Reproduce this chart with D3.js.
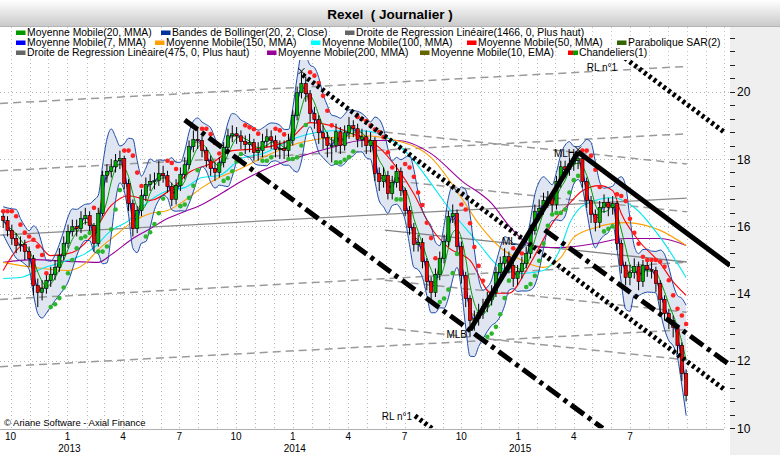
<!DOCTYPE html>
<html><head><meta charset="utf-8">
<script src="https://cdn.jsdelivr.net/npm/d3@7"></script>
<style>
body{margin:0;background:#fff}
svg{display:block}
text{font-family:"Liberation Sans",Arial,sans-serif;fill:#000}
</style>
</head><body>
<svg id="c" width="780" height="455"></svg>
<script>
// ---------- DATA (weekly candles) ----------
const startDate = "2012-09-19";
const firstOpen = 16.30;
const closes = [16.17,15.88,15.64,15.43,15.46,15.25,15.04,14.24,14.04,14.15,
14.39,14.57,14.78,15.13,15.49,15.85,15.99,15.93,16.23,16.32,
16.02,15.49,16.38,17.51,17.63,17.77,17.95,18.01,17.27,16.68,
15.93,16.47,16.91,17.24,17.33,17.36,17.57,17.51,17.18,16.80,
17.21,17.54,17.83,18.37,18.58,18.55,18.25,17.95,17.72,17.60,
17.89,18.34,18.69,18.75,18.69,18.52,18.43,18.49,18.19,18.25,
18.52,18.66,18.55,18.28,18.31,18.25,18.55,19.29,19.97,20.24,
19.94,19.35,19.17,18.78,18.64,18.40,18.40,18.81,18.40,18.78,
18.99,18.90,18.58,18.66,18.40,18.55,17.57,17.33,17.51,16.97,
17.30,17.63,17.06,16.47,15.96,15.46,15.52,14.96,14.36,14.04,
14.57,15.04,15.55,16.29,16.38,15.40,14.54,13.86,13.20,13.26,
13.44,13.62,13.83,14.04,14.63,14.90,15.10,14.84,14.45,14.66,
14.90,15.19,15.88,16.44,16.53,16.77,16.85,16.65,17.33,17.77,
17.69,17.86,17.95,18.01,17.33,16.77,16.35,16.11,16.56,16.71,
16.56,16.68,15.49,14.84,14.48,14.63,14.81,14.36,14.84,14.72,
14.69,14.30,13.83,13.41,13.20,13.00,12.46,11.63,10.98];
const highs = [16.45,16.30,16.05,15.80,15.70,15.60,15.40,15.15,14.45,14.40,
14.60,14.80,15.00,15.35,15.70,16.05,16.20,16.20,16.45,16.55,
16.45,16.10,16.55,17.65,17.85,18.00,18.15,18.25,18.10,17.40,
16.80,16.60,17.10,17.45,17.55,17.60,17.95,17.80,17.65,17.30,
17.40,17.75,18.05,18.55,18.85,18.90,18.70,18.35,18.10,17.90,
18.05,18.50,18.90,19.00,18.95,18.85,18.70,18.75,18.60,18.50,
18.75,18.90,18.85,18.70,18.55,18.55,18.75,19.45,20.15,20.58,
20.45,20.05,19.55,19.30,19.00,18.80,18.65,19.05,18.95,19.00,
19.25,19.15,19.05,18.90,18.85,18.80,18.65,17.75,17.75,17.65,
17.50,17.85,17.75,17.15,16.60,16.10,15.75,15.65,15.05,14.50,
14.75,15.25,15.75,16.45,16.65,16.50,15.55,14.65,13.95,13.50,
13.70,13.85,14.05,14.25,14.80,15.10,15.35,15.25,14.95,14.85,
15.10,15.40,16.05,16.65,16.80,17.00,17.05,17.00,17.50,17.95,
17.95,18.05,18.15,18.25,18.10,17.45,16.90,16.50,16.75,16.95,
16.85,16.90,16.75,15.60,14.95,14.85,15.05,14.95,15.00,15.00,
14.95,14.80,14.40,13.95,13.55,13.35,13.10,12.55,11.75];
const lows = [15.95,15.70,15.45,15.20,15.25,15.00,14.80,13.95,13.60,13.80,
14.00,14.20,14.40,14.65,15.00,15.35,15.70,15.70,15.80,16.05,
15.80,15.25,15.40,16.30,17.30,17.45,17.60,17.70,17.10,16.45,
15.70,15.80,16.30,16.75,17.05,17.10,17.20,17.30,17.00,16.60,
16.65,17.05,17.40,17.70,18.20,18.30,18.05,17.75,17.50,17.35,
17.45,17.75,18.20,18.50,18.45,18.30,18.15,18.20,17.95,17.95,
18.05,18.35,18.30,18.05,18.00,18.00,18.05,18.40,19.15,19.80,
19.70,19.10,18.90,18.45,18.30,18.05,17.90,18.20,18.15,18.25,
18.60,18.65,18.35,18.35,18.15,18.20,17.35,17.05,17.15,16.80,
16.80,17.15,16.90,16.30,15.75,15.25,15.25,14.75,14.10,13.75,
13.90,14.40,14.90,15.40,16.10,15.20,14.30,13.60,12.72,12.90,
13.05,13.25,13.45,13.65,13.90,14.45,14.70,14.60,14.20,14.25,
14.45,14.75,15.05,15.75,16.20,16.35,16.55,16.40,16.50,17.15,
17.45,17.50,17.65,17.70,17.15,16.55,16.10,15.85,15.95,16.40,
16.30,16.35,15.30,14.60,14.25,14.25,14.45,14.10,14.20,14.50,
14.45,14.05,13.40,13.20,12.95,12.70,12.20,11.40,10.80];

// long moving averages: [week index, value]
const ma200 = [[0,14.93],[7,15.01],[15,14.96],[22,14.93],[25,15.16],[30,15.64],[34,15.93],[38,16.23],[42,16.44],[46,16.65],[50,16.94],[55,17.33],[60,17.66],[68,18.04],[76,18.34],[83,18.55],[91,18.55],[99,18.16],[106,17.36],[113,16.68],[117,16.02],[121,15.52],[125,15.37],[129,15.37],[137,15.49],[144,15.64],[152,15.64],[158,15.43]];
const ma150 = [[0,14.93],[7,14.78],[15,14.69],[19,14.90],[22,15.31],[26,15.73],[30,16.14],[34,16.38],[38,16.47],[42,16.77],[46,17.15],[50,17.45],[55,17.72],[60,18.04],[68,18.46],[76,18.64],[83,18.69],[91,18.55],[99,18.04],[106,16.85],[110,16.08],[115,15.37],[120,14.99],[125,14.78],[129,15.07],[132,15.67],[137,15.96],[144,16.11],[152,15.88],[158,15.43]];
const ma100 = [[0,14.45],[4,14.48],[9,14.75],[15,14.99],[19,15.19],[21,15.37],[25,15.88],[29,16.17],[32,16.56],[38,17.06],[42,17.15],[46,17.45],[50,17.51],[55,18.01],[60,18.16],[68,18.64],[76,18.84],[83,18.84],[87,18.75],[91,18.46],[95,17.95],[99,17.27],[103,16.56],[108,15.79],[110,15.49],[115,14.78],[120,14.60],[125,14.69],[129,15.37],[131,16.08],[135,16.68],[141,16.85],[146,16.56],[152,15.67],[158,14.48]];
const ma50 = [[0,14.69],[3,15.28],[7,15.58],[11,15.13],[16,15.22],[20,15.64],[25,16.62],[29,16.91],[34,16.77],[39,17.12],[43,17.60],[48,17.86],[53,18.25],[59,18.31],[66,18.55],[71,19.08],[76,18.99],[80,18.78],[83,18.64],[87,18.34],[91,17.75],[95,16.97],[99,15.96],[103,15.37],[108,14.99],[113,14.01],[117,14.01],[121,14.69],[124,15.37],[127,16.08],[131,16.68],[134,17.06],[138,17.21],[141,17.06],[143,16.38],[147,15.58],[152,14.90],[155,14.35],[158,13.95]];

// regression channels: [date, value] endpoints of centre line, offsets
const reg1466 = {d0:"2012-09-14", v0:15.74, d1:"2015-10-01", v1:16.84, offsets:[3.91,1.91,0,-1.91,-3.91]};
const reg475  = {d0:"2014-05-30", v0:15.89, d1:"2015-10-01", v1:14.94, offsets:[2.91,1.49,0,-1.49,-2.91]};

// trend lines (date, value)
const rl1 = {d0:"2014-01-17", v0:20.50, d1:"2015-12-02", v1:11.14, channel:7.64, upperFrom:"2015-06-15", lowerFrom:"2014-07-18"};
const trendLines = [
  {d0:"2013-07-10", v0:19.16, d1:"2015-05-18", v1:10.00, style:"dashdot"},
  {d0:"2014-10-15", v0:12.92, d1:"2015-04-08", v1:18.21, style:"solid"},
  {d0:"2015-04-08", v0:18.21, d1:"2015-12-10", v1:14.84, style:"solid"},
  {d0:"2015-02-13", v0:15.89, d1:"2015-12-10", v1:11.88, style:"dashdot"}
];

const yTicksLabeled = [10,12,14,16,18,20];
const monthLabels = {0:"1",3:"4",6:"7",9:"10"};

// ---------- SETUP ----------
const svg = d3.select("#c");
const W = 780, H = 455;
const P = {left:0, right:730, top:27, bottom:428.3, legendBottom:60};
const parse = d3.utcParse("%Y-%m-%d");
const x = d3.scaleUtc().domain([parse("2012-10-01"), parse("2015-10-01")]).range([10.6, 10.6 + 1095*0.6175]);
const y = d3.scaleLinear().domain([10,20]).range([428.3, 91.7]);
const dates = closes.map((_,i)=>d3.utcDay.offset(parse(startDate), 7*i));
const opens = closes.map((c,i)=> i===0 ? firstOpen : closes[i-1]);

// indicators
function sma(a,n){return a.map((_,i)=>d3.mean(a.slice(Math.max(0,i-n+1),i+1)));}
function ema(a,n){const k=2/(n+1);let e=a[0];return a.map((v,i)=>i===0?e:(e=k*v+(1-k)*e));}
const ma20 = sma(closes,4), ma7 = sma(closes,2), ema10 = ema(closes,2);
const bb = closes.map((_,i)=>{
  const lo=Math.max(0,i-3);
  const s=closes.slice(lo,i+1).concat(highs.slice(lo,i+1),lows.slice(lo,i+1));
  const m=d3.mean(closes.slice(lo,i+1));
  const sd=Math.sqrt(d3.mean(s,v=>(v-m)**2));
  return {up:m+2*sd, lo:m-2*sd};
});
function psar(hs,ls,a0,step,amax){
  const n=hs.length,out=[];let up=false,af=a0,ep=ls[0],s=hs[0];
  out.push({v:s,up});
  for(let i=1;i<n;i++){
    s=s+af*(ep-s);
    if(up){s=Math.min(s,ls[i-1],ls[Math.max(0,i-2)]);
      if(ls[i]<s){up=false;s=ep;ep=ls[i];af=a0;}
      else if(hs[i]>ep){ep=hs[i];af=Math.min(af+step,amax);}
    }else{s=Math.max(s,hs[i-1],hs[Math.max(0,i-2)]);
      if(hs[i]>s){up=true;s=ep;ep=hs[i];af=a0;}
      else if(ls[i]<ep){ep=ls[i];af=Math.min(af+step,amax);}
    }
    out.push({v:s,up});
  }
  return out;
}
const sar = psar(highs,lows,0.07,0.07,0.35);

// ---------- BACKGROUND ----------
const defs = svg.append("defs");
const g1 = defs.append("linearGradient").attr("id","tb").attr("x1",0).attr("y1",0).attr("x2",0).attr("y2",1);
g1.append("stop").attr("offset","0%").attr("stop-color","#ffffff");
g1.append("stop").attr("offset","100%").attr("stop-color","#c8c8c8");
defs.append("clipPath").attr("id","clip").append("rect")
  .attr("x",P.left).attr("y",P.top).attr("width",P.right-P.left).attr("height",P.bottom-P.top);

svg.append("rect").attr("width",W).attr("height",H).attr("fill","#fff");
svg.append("rect").attr("x",P.right).attr("y",P.top).attr("width",W-P.right).attr("height",H-P.top).attr("fill","#efefef");
svg.append("rect").attr("width",W).attr("height",P.top).attr("fill","url(#tb)");
svg.append("line").attr("x1",0).attr("x2",W).attr("y1",P.top-0.5).attr("y2",P.top-0.5).attr("stroke","#b4b4b4");
svg.append("text").attr("x",390).attr("y",19).attr("text-anchor","middle")
  .style("font-size","13.5px").style("font-weight","bold").style("white-space","pre")
  .attr("xml:space","preserve").text("Rexel  ( Journalier )");

// grid
const grid = svg.append("g");
const months = d3.utcMonth.range(parse("2012-10-01"), parse("2015-12-31"));
grid.selectAll("line.v").data(months).join("line")
  .attr("x1",d=>Math.round(x(d))+0.5).attr("x2",d=>Math.round(x(d))+0.5)
  .attr("y1",P.top).attr("y2",P.bottom)
  .attr("stroke","#b8b8b8").attr("stroke-dasharray","1,3")
  .attr("display",d=>x(d)<P.right-2?null:"none");
grid.selectAll("line.h").data([12,14,16,18,20]).join("line")
  .attr("x1",0).attr("x2",P.right).attr("y1",d=>Math.round(y(d))+0.5).attr("y2",d=>Math.round(y(d))+0.5)
  .attr("stroke","#b8b8b8").attr("stroke-dasharray","1,3");
svg.append("line").attr("x1",0).attr("x2",P.right-6).attr("y1",429.5).attr("y2",429.5).attr("stroke","#b0b0b0");

const plot = svg.append("g").attr("clip-path","url(#clip)");
const xi = i=>x(dates[i]);

// Bollinger fill
plot.append("path").datum(bb)
  .attr("d",d3.area().x((d,i)=>xi(i)).y0(d=>y(d.lo)).y1(d=>y(d.up)).curve(d3.curveMonotoneX))
  .attr("fill","#dfe6f1");

// regression channels
function regLines(r, solidColor){
  const a=parse(r.d0), b=parse(r.d1);
  r.offsets.forEach(o=>{
    plot.append("line").attr("x1",x(a)).attr("y1",y(r.v0+o)).attr("x2",x(b)).attr("y2",y(r.v1+o))
      .attr("stroke", o===0?solidColor:"#9a9a9a").attr("stroke-width",o===0?1.3:1.5)
      .attr("stroke-dasharray",o===0?null:"8,5");
  });
}
regLines(reg1466,"#8a8a8a");
regLines(reg475,"#808080");

// long MAs
const lineIdx = d3.line().x(d=>xi(d[0])).y(d=>y(d[1])).curve(d3.curveMonotoneX);
[[ma200,"#990099"],[ma150,"#ffa000"],[ma100,"#00e8f0"],[ma50,"#ff0000"]].forEach(([data,c])=>{
  plot.append("path").datum(data).attr("d",lineIdx).attr("fill","none").attr("stroke",c).attr("stroke-width",1.1);
});

// Bollinger lines
const lineArr = acc=>d3.line().x((d,i)=>xi(i)).y(acc).curve(d3.curveMonotoneX);
plot.append("path").datum(bb).attr("d",lineArr(d=>y(d.up))).attr("fill","none").attr("stroke","#1d4aa8").attr("stroke-width",1);
plot.append("path").datum(bb).attr("d",lineArr(d=>y(d.lo))).attr("fill","none").attr("stroke","#1d4aa8").attr("stroke-width",1);

// short MAs
plot.append("path").datum(ma20).attr("d",lineArr(d=>y(d))).attr("fill","none").attr("stroke","#009900").attr("stroke-width",1);
plot.append("path").datum(ema10).attr("d",lineArr(d=>y(d))).attr("fill","none").attr("stroke","#666600").attr("stroke-width",1);
plot.append("path").datum(ma7).attr("d",lineArr(d=>y(d))).attr("fill","none").attr("stroke","#0000ff").attr("stroke-width",1);

// candles
const cg = plot.append("g");
closes.forEach((c,i)=>{
  const o=opens[i], cx=xi(i);
  cg.append("line").attr("x1",cx).attr("x2",cx).attr("y1",y(highs[i])).attr("y2",y(lows[i])).attr("stroke","#000").attr("stroke-width",1);
  const top=y(Math.max(o,c)), bot=y(Math.min(o,c));
  cg.append("rect").attr("x",cx-1.6).attr("y",top).attr("width",3.2).attr("height",Math.max(1,bot-top))
    .attr("fill",c>=o?"#00b000":"#ff0000").attr("stroke","#000").attr("stroke-width",0.6);
});

// SAR dots
plot.append("g").selectAll("circle").data(sar).join("circle")
  .attr("cx",(d,i)=>xi(i)).attr("cy",d=>y(d.v)).attr("r",2.3)
  .attr("fill",d=>d.up?"#2db52d":"#ff2020");

// trend lines
const dashFor = s=> s==="dashdot" ? "16,5,4,5" : (s==="dotted" ? "3,3" : null);
function tline(d0,v0,d1,v1,style){
  plot.append("line").attr("x1",x(parse(d0))).attr("y1",y(v0)).attr("x2",x(parse(d1))).attr("y2",y(v1))
    .attr("stroke","#000").attr("stroke-width",5).attr("stroke-dasharray",dashFor(style));
}
trendLines.forEach(t=>tline(t.d0,t.v0,t.d1,t.v1,t.style));
// RL n°1 and its channel copies
const rlAt = ds=>{const a=parse(rl1.d0),b=parse(rl1.d1),t=(parse(ds)-a)/(b-a);return rl1.v0+t*(rl1.v1-rl1.v0);};
tline(rl1.d0,rl1.v0,rl1.d1,rl1.v1,"dotted");
tline(rl1.upperFrom,rlAt(rl1.upperFrom)+rl1.channel,rl1.d1,rl1.v1+rl1.channel,"dotted");
tline(rl1.lowerFrom,rlAt(rl1.lowerFrom)-rl1.channel,rl1.d1,rl1.v1-rl1.channel,"dotted");

// labels on chart
const ann = svg.append("g").style("font-size","10px");
ann.append("text").attr("x",x(parse(rl1.upperFrom))-3).attr("y",y(rlAt(rl1.upperFrom)+rl1.channel)+17).attr("text-anchor","end").text("RL n°1");
ann.append("text").attr("x",x(parse(rl1.lowerFrom))-3).attr("y",y(rlAt(rl1.lowerFrom)-rl1.channel)+4).attr("text-anchor","end").text("RL n°1");
ann.append("text").attr("x",xi(133)-3).attr("y",y(highs[133])+6).attr("text-anchor","end").text("MLH");
ann.append("text").attr("x",xi(117)).attr("y",y(15.45)).attr("text-anchor","middle").text("ML");
ann.append("text").attr("x",xi(108)-3).attr("y",y(lows[108])+1).attr("text-anchor","end").text("MLB");
[69,133].forEach(i=>{
  const cx=xi(i), cy=y(highs[i])-1;
  ann.append("path").attr("d",`M${cx-3},${cy-3}L${cx+3},${cy+3}M${cx-3},${cy+3}L${cx+3},${cy-3}`).attr("stroke","#000").attr("stroke-width",1);
});
svg.append("text").attr("x",4).attr("y",426).style("font-size","9.5px").text("© Ariane Software - Axial Finance");

// ---------- LEGEND ----------
svg.append("rect").attr("x",0).attr("y",P.top).attr("width",P.right).attr("height",P.legendBottom-P.top).attr("fill","#fff");
svg.append("g").selectAll("line").data(months.filter(d=>x(d)<P.right-2)).join("line")
  .attr("x1",d=>Math.round(x(d))+0.5).attr("x2",d=>Math.round(x(d))+0.5)
  .attr("y1",P.top).attr("y2",P.legendBottom)
  .attr("stroke","#c4c4c4").attr("stroke-dasharray","1,3");
const legend = [
  [16,36,"#009900","Moyenne Mobile(20, MMA)"],
  [161,36,"#003399","Bandes de Bollinger(20, 2, Close)"],
  [345,36,"#666666","Droite de Regression Linéaire(1466, 0, Plus haut)"],
  [16,46,"#0000ff","Moyenne Mobile(7, MMA)"],
  [155,46,"#ffa000","Moyenne Mobile(150, MMA)"],
  [311,46,"#00ffff","Moyenne Mobile(100, MMA)"],
  [467,46,"#ff0000","Moyenne Mobile(50, MMA)"],
  [617,46,"#336600","Parabolique SAR(2)"],
  [16,56,"#666666","Droite de Regression Linéaire(475, 0, Plus haut)"],
  [267,56,"#990099","Moyenne Mobile(200, MMA)"],
  [420,56,"#666600","Moyenne Mobile(10, EMA)"],
  [568,56,"candle","Chandeliers(1)"]
];
const lg = svg.append("g").style("font-size","10.4px");
legend.forEach(([lx,ly,c,t])=>{
  if(c==="candle"){
    lg.append("rect").attr("x",lx).attr("y",ly-5.5).attr("width",5).attr("height",4.5).attr("fill","#ff0000");
    lg.append("rect").attr("x",lx+5).attr("y",ly-5.5).attr("width",5).attr("height",4.5).attr("fill","#00a000");
  } else {
    lg.append("rect").attr("x",lx).attr("y",ly-5.5).attr("width",9.5).attr("height",4.5).attr("fill",c);
  }
  lg.append("text").attr("x",lx+11).attr("y",ly).text(t);
});

// ---------- AXES ----------
const yMinor = d3.range(10, 21.81, 0.4);
svg.append("g").selectAll("line").data(yMinor).join("line")
  .attr("x1",P.right).attr("x2",P.right+5).attr("y1",d=>Math.round(y(d))+0.5).attr("y2",d=>Math.round(y(d))+0.5)
  .attr("stroke","#222");
svg.append("g").style("font-size","12px").selectAll("text").data(yTicksLabeled).join("text")
  .attr("x",P.right+7).attr("y",d=>y(d)+4.5).text(d=>d);

const qMonths = d3.utcMonth.every(3).range(parse("2012-10-01"), parse("2015-08-01"));
const xa = svg.append("g").style("font-size","10px");
qMonths.forEach(d=>{
  const m=d.getUTCMonth();
  xa.append("text").attr("x",x(d)).attr("y",439.5).attr("text-anchor","middle").text(monthLabels[m]);
  if(m===0) xa.append("text").attr("x",x(d)+2).attr("y",452).attr("text-anchor","middle").text(d.getUTCFullYear());
});
</script>
</body></html>
